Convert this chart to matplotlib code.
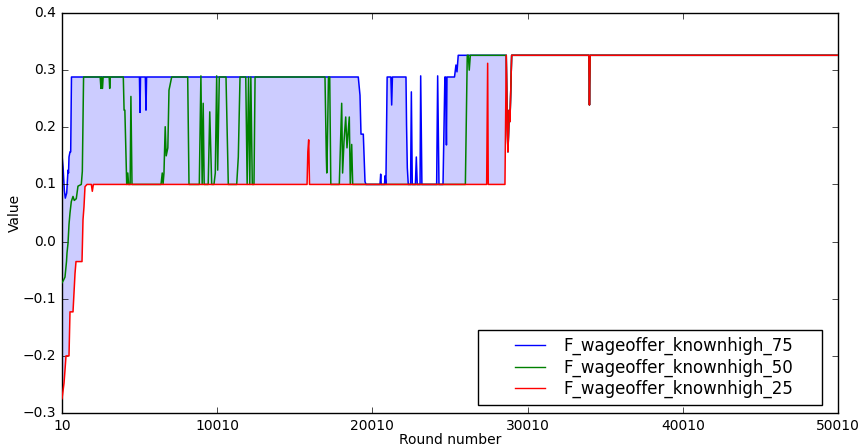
import numpy as np
import matplotlib
matplotlib.use('Agg')
import matplotlib.pyplot as plt
from matplotlib.lines import Line2D
from matplotlib.legend_handler import HandlerLine2D

# Percentile series (round number, value)
rounds_75 = [10, 80, 160, 222, 313, 397, 430, 461, 525, 570, 620,
             5000, 5036, 5070, 5380, 5422, 5460,
             19100, 19211, 19275, 19424, 19533, 19597,
             20500, 20544, 20580, 20790, 20821, 20880, 20960,
             21200, 21252, 21300, 22174, 22210, 22260, 22322,
             22470, 22520, 22580, 22780, 22840, 22900,
             23080, 23121, 23200, 24150, 24215, 24300,
             24560, 24680, 24730, 24780, 24815, 25300, 25394, 25460, 25540,
             28635, 28700, 28744, 28830, 28873, 28983,
             33960, 33995, 34040, 50010]
value_75 = [0.151, 0.13, 0.09, 0.076, 0.085, 0.125, 0.12, 0.148, 0.157, 0.157, 0.288,
            0.288, 0.226, 0.288, 0.288, 0.23, 0.288,
            0.288, 0.256, 0.188, 0.188, 0.105, 0.1,
            0.1, 0.118, 0.1, 0.1, 0.115, 0.1, 0.288,
            0.288, 0.239, 0.288, 0.288, 0.204, 0.129, 0.1,
            0.1, 0.262, 0.1, 0.1, 0.148, 0.1,
            0.1, 0.29, 0.1, 0.1, 0.29, 0.1,
            0.1, 0.288, 0.288, 0.169, 0.288, 0.288, 0.309, 0.297, 0.326,
            0.326, 0.2, 0.157, 0.23, 0.21, 0.326,
            0.326, 0.239, 0.326, 0.326]

rounds_50 = [10, 100, 203, 300, 332, 397, 461, 525, 609, 719, 800, 930, 1040,
             1254, 1320, 1400,
             2470, 2520, 2560, 2620, 2660, 3050, 3083, 3120,
             3960, 4010, 4060, 4180, 4250, 4300, 4400, 4450, 4520,
             6390, 6470, 6520, 6580, 6660, 6724, 6829, 6904, 7078,
             8109, 8193, 8856, 8960, 9042, 9107, 9171, 9430, 9530, 9655,
             9803, 9887, 9977, 10042, 10145, 10577, 10725,
             11266, 11370, 11480, 11850, 11940, 12030, 12110, 12178, 12271,
             12380, 12450,
             16955, 17040, 17070, 17110, 17180, 17260, 17330,
             17877, 18031, 18090, 18180, 18290, 18372, 18521, 18585, 18676, 18740,
             26000, 26122, 26190, 26250, 26320,
             28635, 28700, 28744, 28830, 28873, 28983,
             33960, 33995, 34040, 50010]
value_50 = [-0.072, -0.068, -0.062, -0.035, -0.02, -0.003, 0.03, 0.05, 0.07, 0.079, 0.072, 0.075, 0.097,
            0.1, 0.123, 0.288,
            0.288, 0.268, 0.288, 0.268, 0.288, 0.288, 0.268, 0.288,
            0.288, 0.23, 0.23, 0.1, 0.12, 0.1, 0.1, 0.254, 0.1,
            0.1, 0.12, 0.1, 0.12, 0.201, 0.15, 0.164, 0.265, 0.288,
            0.288, 0.1, 0.1, 0.29, 0.1, 0.242, 0.1, 0.1, 0.227, 0.1,
            0.1, 0.12, 0.29, 0.125, 0.288, 0.288, 0.1,
            0.1, 0.148, 0.288, 0.288, 0.1, 0.288, 0.1, 0.288, 0.1,
            0.1, 0.288,
            0.288, 0.15, 0.12, 0.17, 0.288, 0.288, 0.1,
            0.1, 0.242, 0.12, 0.175, 0.218, 0.164, 0.218, 0.1, 0.17, 0.1,
            0.1, 0.326, 0.326, 0.30, 0.326,
            0.326, 0.2, 0.157, 0.23, 0.21, 0.326,
            0.326, 0.239, 0.326, 0.326]

rounds_25 = [10, 139, 203, 268, 461, 525, 719, 783, 848, 912, 1299, 1363, 1427,
             1492, 1621, 1900, 1963, 2030,
             15800, 15850, 15905, 15957,
             27372, 27436, 27475, 28551,
             28635, 28700, 28744, 28830, 28873, 28983,
             33960, 33995, 34040, 50010]
value_25 = [-0.275, -0.248, -0.225, -0.2, -0.2, -0.123, -0.123, -0.09, -0.056, -0.035, -0.035, 0.038, 0.061,
            0.096, 0.1, 0.1, 0.088, 0.1,
            0.1, 0.157, 0.178, 0.1,
            0.1, 0.312, 0.1, 0.1,
            0.326, 0.2, 0.157, 0.23, 0.21, 0.326,
            0.326, 0.239, 0.326, 0.326]

labels = ['F_wageoffer_knownhigh_75', 'F_wageoffer_knownhigh_50', 'F_wageoffer_knownhigh_25']
xticks = [10, 10010, 20010, 30010, 40010, 50010]

plt.style.use('classic')
fig = plt.figure(figsize=(8.61, 4.47), dpi=100, facecolor='white')
ax = fig.add_axes([62 / 861, 1 - 413 / 447, 776 / 861, 400 / 447])
ax.set_facecolor('white')

# shaded band between 75th and 25th percentile
band_x = np.concatenate([rounds_75, rounds_25[::-1]])
band_y = np.concatenate([value_75, value_25[::-1]])
ax.fill(band_x, band_y, color='blue', alpha=0.2, linewidth=0, zorder=1)

ax.plot(rounds_75, value_75, color='b', lw=1.1, label=labels[0], zorder=2)
ax.plot(rounds_50, value_50, color='g', lw=1.1, label=labels[1], zorder=3)
ax.plot(rounds_25, value_25, color='r', lw=1.1, label=labels[2], zorder=4)

ax.set_xlim(10, 50010)
ax.set_ylim(-0.3, 0.4)
ax.set_xticks(xticks)
ax.set_xticklabels([str(t) for t in xticks])
ax.tick_params(labelsize=10)
ax.set_xlabel('Round number', fontsize=10, labelpad=0)
ax.set_ylabel('Value', fontsize=10, labelpad=1)

leg = ax.legend(loc='lower left', bbox_to_anchor=(0.536, 0.02, 0.4433, 0.0),
                mode='expand', borderaxespad=0,
                fontsize=12, handlelength=3.9, labelspacing=0.2,
                handler_map={Line2D: HandlerLine2D(xpad=1.5)})
for h in leg.get_lines():
    h.set_linewidth(1.0)

fig.savefig('out.png', dpi=100, facecolor='white')
